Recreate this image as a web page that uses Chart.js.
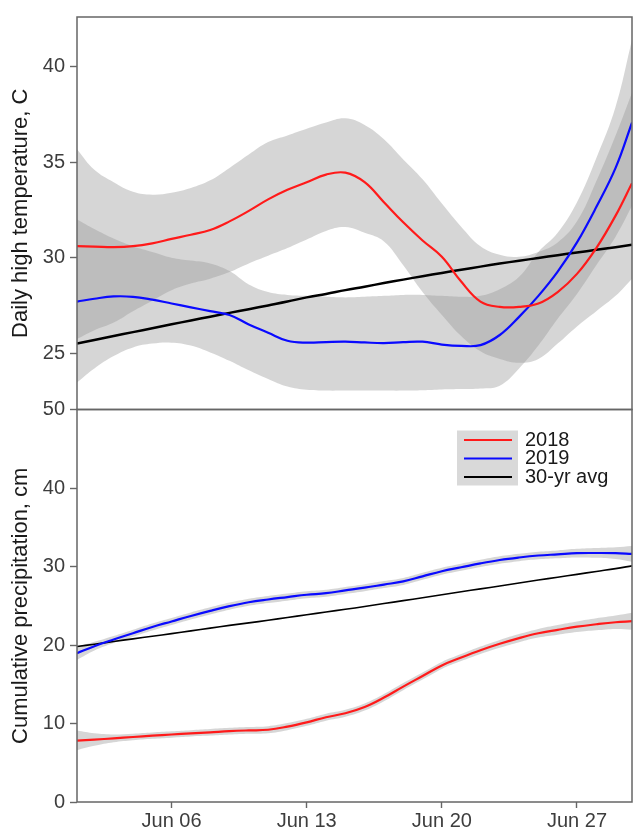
<!DOCTYPE html>
<html>
<head>
<meta charset="utf-8">
<script src="https://cdn.jsdelivr.net/npm/chart.js@4.4.1/dist/chart.umd.min.js"></script>
<style>
  html, body { margin: 0; padding: 0; background: #fff; }
</style>
</head>
<body>
<canvas id="myChart" width="633" height="831"></canvas>
<script>
// day of June for every sample
var days = [1.1, 2, 3, 4, 5, 6, 7, 8, 9, 10, 11, 12, 13, 14, 15, 16, 17, 18, 19, 20,
            21, 22, 23, 24, 25, 26, 27, 28, 29, 29.85];

var xTickDays = [6, 13, 20, 27];
var xTickLabels = ['Jun 06', 'Jun 13', 'Jun 20', 'Jun 27'];
var tempTicks = [25, 30, 35, 40];
var precipTicks = [0, 10, 20, 30, 40, 50];
var seriesNames = ['2018', '2019', '30-yr avg'];

// daily high temperature, C (smoothed)
var temp2018 = [30.6, 30.58, 30.55, 30.6, 30.75, 30.98, 31.2, 31.45, 31.9, 32.45, 33.05, 33.55, 33.95, 34.35, 34.45,
                33.95, 32.9, 31.85, 30.9, 30.05, 28.75, 27.7, 27.42, 27.42, 27.6, 28.2, 29.15, 30.5, 32.2, 33.9];
var temp2018Hi = [35.68, 34.6, 33.95, 33.45, 33.3, 33.4, 33.65, 34.05, 34.7, 35.4, 36.05, 36.4, 36.75, 37.08, 37.3,
                  36.95, 36.2, 35.14, 34.1, 32.83, 31.62, 30.6, 30.15, 30.05, 30.3, 30.8, 31.9, 34.0, 36.4, 38.64];
var temp2018Lo = [25.74, 26.2, 26.6, 27.2, 27.75, 28.3, 28.65, 28.9, 29.25, 29.7, 30.1, 30.5, 30.95, 31.4, 31.6,
                  31.3, 30.85, 29.6, 28.2, 27.0, 25.9, 25.1, 24.7, 24.5, 24.7, 25.5, 26.4, 27.2, 28.0, 28.9];
var temp2019 = [27.7, 27.85, 27.97, 27.95, 27.8, 27.6, 27.4, 27.2, 27.0, 26.5, 26.07, 25.65, 25.55, 25.58, 25.6,
                25.56, 25.53, 25.58, 25.6, 25.45, 25.38, 25.42, 25.95, 26.9, 28.0, 29.27, 30.8, 32.65, 34.7, 37.07];
var temp2019Hi = [32.0, 31.5, 31.0, 30.6, 30.3, 30.0, 29.85, 29.7, 29.3, 28.6, 28.2, 28.05, 28.0, 27.95, 27.92,
                  27.95, 28.0, 28.05, 28.05, 28.0, 27.95, 28.0, 28.35, 29.0, 30.3, 31.3, 32.9, 35.2, 37.9, 41.4];
var temp2019Lo = [23.47, 24.2, 24.85, 25.3, 25.5, 25.55, 25.4, 25.04, 24.6, 24.1, 23.65, 23.25, 23.08, 23.04, 23.04,
                  23.04, 23.04, 23.04, 23.06, 23.1, 23.12, 23.15, 23.3, 24.2, 25.4, 26.8, 28.1, 29.6, 31.1, 32.7];
var tempAvg = [25.5, 25.69, 25.9, 26.1, 26.3, 26.51, 26.71, 26.91, 27.11, 27.3, 27.5, 27.7, 27.92, 28.1, 28.3,
               28.48, 28.67, 28.85, 29.03, 29.2, 29.37, 29.53, 29.69, 29.84, 29.98, 30.13, 30.27, 30.41, 30.55, 30.67];

// cumulative precipitation, cm
var rain2018 = [7.82, 7.95, 8.1, 8.28, 8.45, 8.6, 8.75, 8.88, 9.02, 9.12, 9.2, 9.6, 10.15, 10.8, 11.3,
                12.1, 13.3, 14.7, 16.05, 17.4, 18.4, 19.33, 20.15, 20.88, 21.5, 21.93, 22.33, 22.64, 22.9, 23.03];
var rain2018Hi = [9.1, 8.75, 8.6, 8.7, 8.85, 9.0, 9.15, 9.3, 9.45, 9.55, 9.65, 10.05, 10.6, 11.25, 11.75,
                  12.55, 13.75, 15.15, 16.5, 17.85, 18.85, 19.8, 20.65, 21.4, 22.05, 22.55, 23.0, 23.4, 23.75, 24.1];
var rain2018Lo = [6.6, 7.15, 7.6, 7.86, 8.05, 8.2, 8.35, 8.46, 8.59, 8.69, 8.75, 9.15, 9.7, 10.35, 10.85,
                  11.65, 12.85, 14.25, 15.6, 16.95, 17.95, 18.86, 19.65, 20.36, 20.95, 21.31, 21.66, 21.88, 22.05, 21.95];
var rain2019 = [18.95, 19.85, 20.7, 21.5, 22.3, 23.0, 23.7, 24.35, 24.95, 25.45, 25.8, 26.1, 26.4, 26.6, 26.95,
                27.3, 27.7, 28.1, 28.75, 29.4, 29.9, 30.4, 30.83, 31.15, 31.4, 31.55, 31.7, 31.72, 31.7, 31.6];
var rain2019Hi = [19.75, 20.4, 21.15, 21.95, 22.75, 23.45, 24.15, 24.8, 25.4, 25.9, 26.25, 26.55, 26.85, 27.05, 27.4,
                  27.75, 28.15, 28.55, 29.2, 29.85, 30.35, 30.85, 31.3, 31.62, 31.88, 32.05, 32.25, 32.35, 32.45, 32.6];
var rain2019Lo = [18.1, 19.3, 20.25, 21.05, 21.85, 22.55, 23.25, 23.9, 24.5, 25.0, 25.35, 25.65, 25.95, 26.15, 26.5,
                  26.85, 27.25, 27.65, 28.3, 28.95, 29.45, 29.95, 30.36, 30.68, 30.92, 31.05, 31.15, 31.1, 30.95, 30.6];
var rainAvg = [19.8, 20.1, 20.45, 20.78, 21.12, 21.45, 21.8, 22.15, 22.5, 22.82, 23.15, 23.5, 23.85, 24.2, 24.55,
               24.9, 25.28, 25.65, 26.02, 26.4, 26.78, 27.15, 27.52, 27.9, 28.27, 28.64, 29.0, 29.37, 29.73, 30.08];

var FONT = "'Liberation Sans', Arial, Helvetica, sans-serif";
var BAND = 'rgba(153,153,153,0.4)';
var SMOOTH = 0.4;

var pts = function(vals) {
  return vals.map(function(v, i) { return {x: days[i], y: v}; });
};

// a smoothed line
var line = function(label, vals, axis, color, width) {
  return {
    label: label, data: pts(vals), yAxisID: axis,
    borderColor: color, borderWidth: width, backgroundColor: color,
    fill: false, pointRadius: 0, tension: SMOOTH, order: 0
  };
};

// upper + lower edge of a confidence band, lower one fills up to the upper one
var band = function(hi, lo, axis) {
  return [
    {label: 'hi', data: pts(hi), yAxisID: axis, borderWidth: 0, borderColor: 'rgba(0,0,0,0)',
     pointRadius: 0, fill: false, tension: SMOOTH, order: 1},
    {label: 'lo', data: pts(lo), yAxisID: axis, borderWidth: 0, borderColor: 'rgba(0,0,0,0)',
     backgroundColor: BAND, pointRadius: 0, fill: '-1', tension: SMOOTH, order: 1}
  ];
};

var datasets = [
  line(seriesNames[0], temp2018, 'yT', '#ff1a1a', 2.2),
  line(seriesNames[1], temp2019, 'yT', '#0a0aff', 2.2),
  line(seriesNames[2], tempAvg, 'yT', '#000000', 2.5),
  line(seriesNames[0], rain2018, 'yP', '#ff1a1a', 2.2),
  line(seriesNames[1], rain2019, 'yP', '#0a0aff', 2.2),
  line(seriesNames[2], rainAvg, 'yP', '#000000', 1.6)
].concat(band(temp2018Hi, temp2018Lo, 'yT'))
 .concat(band(temp2019Hi, temp2019Lo, 'yT'))
 .concat(band(rain2018Hi, rain2018Lo, 'yP'))
 .concat(band(rain2019Hi, rain2019Lo, 'yP'));

var yAxis = function(min, max, ticks, title) {
  return {
    type: 'linear', position: 'left', stack: 'panels', stackWeight: 1,
    min: min, max: max,
    afterBuildTicks: function(s) { s.ticks = ticks.map(function(v) { return {value: v}; }); },
    afterFit: function(s) { s.width = 77; },
    border: {display: false},
    grid: {drawOnChartArea: false, drawTicks: true, tickLength: 7, tickColor: '#666', tickWidth: 1.4},
    ticks: {autoSkip: false, padding: 5, color: '#3d3d3d', font: {family: FONT, size: 20}},
    title: {display: true, text: title, color: '#1a1a1a', font: {family: FONT, size: 22},
            padding: {top: 8, bottom: 0}}
  };
};

// frame around both panels and the legend in the lower one
var framePlugin = {
  id: 'framePlugin',
  afterDraw: function(chart) {
    var ctx = chart.ctx, a = chart.chartArea;
    var yT = chart.scales.yT, yP = chart.scales.yP;
    ctx.save();
    ctx.strokeStyle = '#666';
    ctx.lineWidth = 1.5;
    ctx.strokeRect(a.left, yT.top, a.right - a.left, yT.bottom - yT.top);
    ctx.strokeRect(a.left, yP.top, a.right - a.left, yP.bottom - yP.top);

    var bx = a.right - 175, by = yP.top + 21;
    ctx.fillStyle = '#d9d9d9';
    ctx.fillRect(bx, by, 61, 55);
    ctx.font = '20px ' + FONT;
    ctx.textBaseline = 'middle';
    for (var i = 0; i < 3; i++) {
      var d = chart.data.datasets[3 + i];
      var ry = by + 9.5 + i * 18.5;
      ctx.strokeStyle = d.borderColor;
      ctx.lineWidth = 2.2;
      ctx.beginPath();
      ctx.moveTo(bx + 7, ry);
      ctx.lineTo(bx + 55, ry);
      ctx.stroke();
      ctx.fillStyle = '#1a1a1a';
      ctx.fillText(d.label, bx + 68, ry);
    }
    ctx.restore();
  }
};

var chart = new Chart(document.getElementById('myChart'), {
  type: 'line',
  data: {datasets: datasets},
  plugins: [framePlugin],
  options: {
    responsive: false,
    animation: false,
    layout: {padding: {top: 14, right: 1, left: 0, bottom: 0}},
    plugins: {legend: {display: false}, tooltip: {enabled: false}},
    scales: {
      x: {
        type: 'linear', min: 1.1, max: 29.85,
        afterBuildTicks: function(s) { s.ticks = xTickDays.map(function(v) { return {value: v}; }); },
        afterFit: function(s) { s.height = 29; },
        border: {display: false},
        grid: {drawOnChartArea: false, tickLength: 6, tickColor: '#666', tickWidth: 1.4},
        ticks: {
          autoSkip: false, maxRotation: 0, padding: 1, color: '#3d3d3d',
          font: {family: FONT, size: 20},
          callback: function(v) { return xTickLabels[xTickDays.indexOf(v)]; }
        }
      },
      // the later axis of the stack goes on top
      yP: yAxis(0, 50, precipTicks, 'Cumulative precipitation, cm'),
      yT: yAxis(22.05, 42.6, tempTicks, 'Daily high temperature, C')
    }
  }
});
</script>
</body>
</html>
